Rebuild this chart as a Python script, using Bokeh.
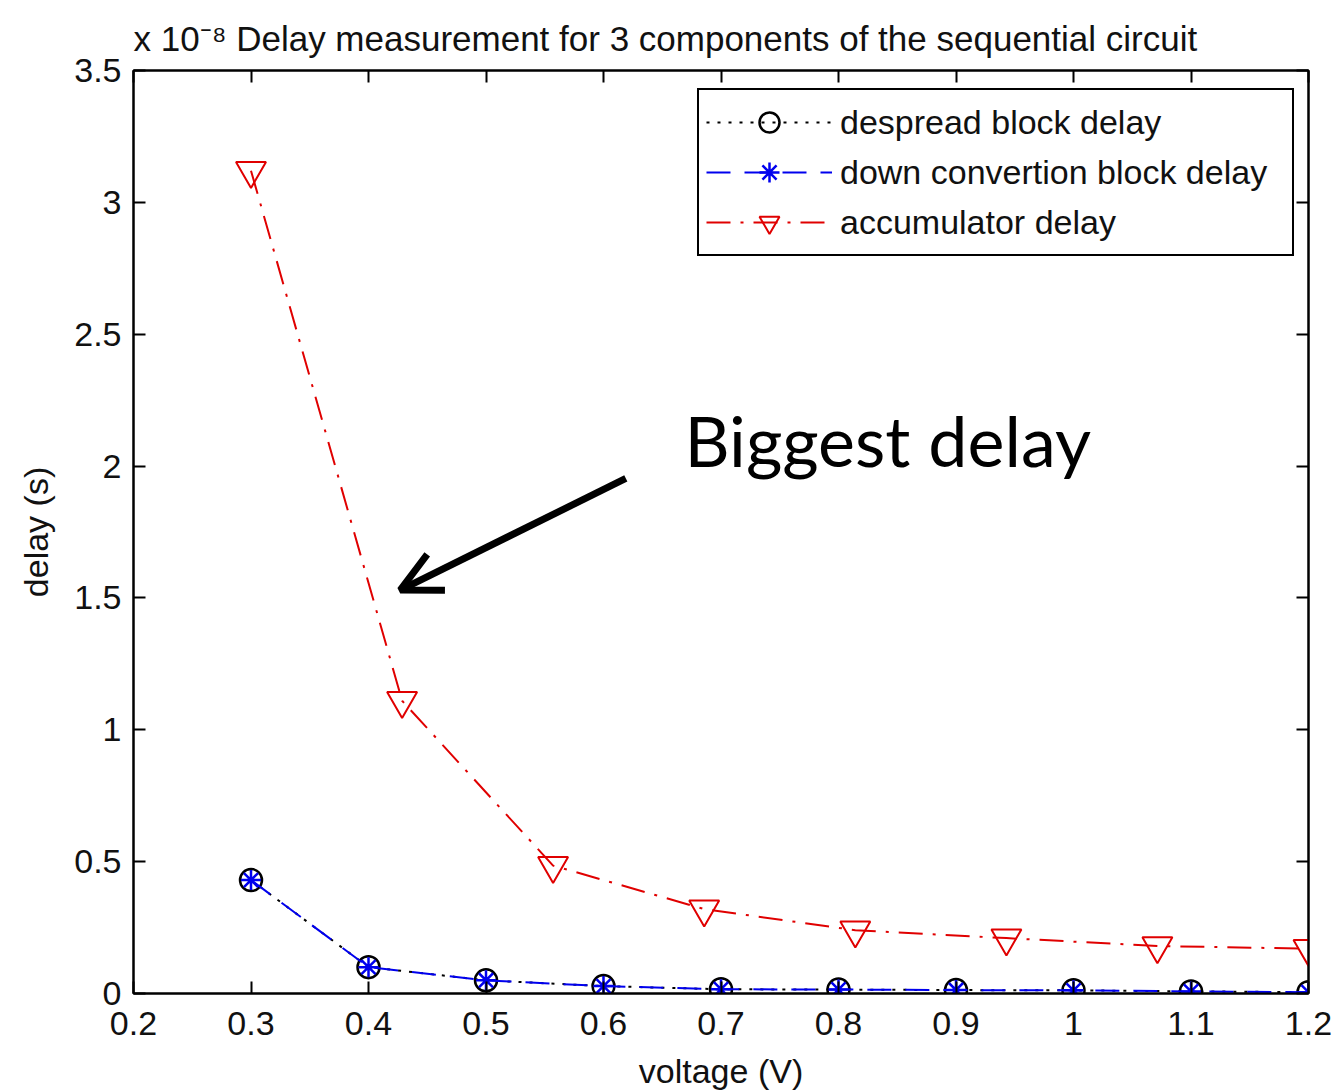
from bokeh.plotting import figure
from bokeh.models import (Range1d, FixedTicker, LinearAxis, Legend, LegendItem,
                          CustomJSTickFormatter, Arrow, OpenHead, Label)
from bokeh.embed import file_html
from bokeh.resources import INLINE

# ---- data (delay values in units of 1e-8 s) ----
voltage = [0.3, 0.4, 0.5, 0.6, 0.7, 0.8, 0.9, 1.0, 1.1, 1.2]
despread_delay = [0.43, 0.10, 0.05, 0.028, 0.016, 0.015, 0.013, 0.012, 0.008, 0.005]
downconv_delay = [0.43, 0.10, 0.05, 0.028, 0.016, 0.015, 0.013, 0.012, 0.008, 0.005]
acc_voltage = [0.3, 0.4286, 0.5571, 0.6857, 0.8143, 0.9429, 1.0714, 1.2]
acc_delay = [3.12, 1.11, 0.485, 0.32, 0.24, 0.21, 0.18, 0.17]

x_ticks = [0.2, 0.3, 0.4, 0.5, 0.6, 0.7, 0.8, 0.9, 1.0, 1.1, 1.2]
y_ticks = [0, 0.5, 1.0, 1.5, 2.0, 2.5, 3.0, 3.5]

title_text = "x 10\u207b\u2078 Delay measurement for 3 components of the sequential circuit"
x_label = "voltage (V)"
y_label = "delay (s)"
legend_labels = ["despread block delay", "down convertion block delay", "accumulator delay"]
annotation_text = "Biggest delay"

FONT = "Liberation Sans"
FS = "34px"

p = figure(width=1337, height=1092, output_backend="svg", toolbar_location=None,
           x_range=Range1d(0.2, 1.2), y_range=Range1d(0, 3.5),
           min_border_left=133, min_border_right=29, min_border_top=70,
           min_border_bottom=99)
p.background_fill_color = "white"
p.border_fill_color = "white"
p.xgrid.visible = False
p.ygrid.visible = False
p.outline_line_color = "black"
p.outline_line_width = 2

fmt = CustomJSTickFormatter(code="return tick.toFixed(1).replace(/\\.0$/, '');")

for ax, ticks in ((p.xaxis[0], x_ticks), (p.yaxis[0], y_ticks)):
    ax.ticker = FixedTicker(ticks=ticks)
    ax.formatter = fmt
    ax.major_tick_in = 12
    ax.major_tick_out = 0
    ax.minor_tick_line_color = None
    ax.axis_line_width = 2
    ax.major_tick_line_width = 2
    ax.major_label_text_font = FONT
    ax.major_label_text_font_size = FS
    ax.major_label_text_color = "#111111"
    ax.axis_label_text_font = FONT
    ax.axis_label_text_font_size = FS
    ax.axis_label_text_font_style = "normal"
    ax.axis_label_text_color = "#111111"

p.xaxis[0].axis_label = x_label
p.xaxis[0].major_label_standoff = 18
p.xaxis[0].axis_label_standoff = 14
p.yaxis[0].axis_label = y_label
p.yaxis[0].major_label_standoff = 12
p.yaxis[0].axis_label_standoff = 16

# mirrored ticks on top and right (labels not drawn)
top_ax = LinearAxis(ticker=FixedTicker(ticks=x_ticks), major_tick_in=12, major_tick_out=0,
                    minor_tick_line_color=None, major_label_text_color=None,
                    major_label_text_font_size="1px",
                    major_label_standoff=0, axis_line_width=2, major_tick_line_width=2)
right_ax = LinearAxis(ticker=FixedTicker(ticks=y_ticks), major_tick_in=12, major_tick_out=0,
                      minor_tick_line_color=None, major_label_text_color=None,
                      major_label_text_font_size="1px",
                      major_label_standoff=0, axis_line_width=2, major_tick_line_width=2)
p.add_layout(top_ax, "above")
p.add_layout(right_ax, "right")

p.title.text = title_text
p.title.text_font = FONT
p.title.text_font_size = "35px"
p.title.text_font_style = "normal"
p.title.text_color = "#111111"
p.title.align = "left"
p.title.standoff = 26

# series
BLUE = "#0000ee"
RED = "#e00000"
l1 = p.line(voltage, despread_delay, line_color="black", line_width=2, line_dash="3 8")
m1 = p.scatter(voltage, despread_delay, marker="circle", size=22, fill_color=None,
               line_color="black", line_width=2.5)
l2 = p.line(voltage, downconv_delay, line_color=BLUE, line_width=2, line_dash="24 14")
m2 = p.scatter(voltage, downconv_delay, marker="asterisk", size=20,
               line_color=BLUE, line_width=2.5)
l3 = p.line(acc_voltage, acc_delay, line_color=RED, line_width=2, line_dash="24 10 3 10")
m3 = p.scatter(acc_voltage, acc_delay, marker="inverted_triangle", size=30, fill_color=None,
               line_color=RED, line_width=2)

legend = Legend(items=[LegendItem(label=legend_labels[0], renderers=[l1, m1]),
                       LegendItem(label=legend_labels[1], renderers=[l2, m2]),
                       LegendItem(label=legend_labels[2], renderers=[l3, m3])],
                location=(564, 737))
legend.label_text_font = FONT
legend.label_text_font_size = FS
legend.label_text_color = "#111111"
legend.glyph_width = 126
legend.glyph_height = 50
legend.label_height = 50
legend.label_width = 445
legend.spacing = 0
legend.padding = 7
legend.margin = 0
legend.label_standoff = 8
legend.border_line_color = "black"
legend.border_line_width = 2
legend.border_line_alpha = 1.0
legend.background_fill_alpha = 1.0
p.add_layout(legend)

# annotation
arrow_start = (0.619, 1.953)
arrow_end = (0.427, 1.53)
p.add_layout(Arrow(end=OpenHead(size=40, line_width=7, line_color="black"),
                   x_start=arrow_start[0], y_start=arrow_start[1],
                   x_end=arrow_end[0], y_end=arrow_end[1],
                   line_width=7, line_color="black"))
p.add_layout(Label(x=0.669, y=2.10, text=annotation_text, text_font="Lato",
                   text_font_size="70px", text_color="black",
                   text_baseline="alphabetic"))

open("out.html", "w").write(file_html(p, INLINE))
